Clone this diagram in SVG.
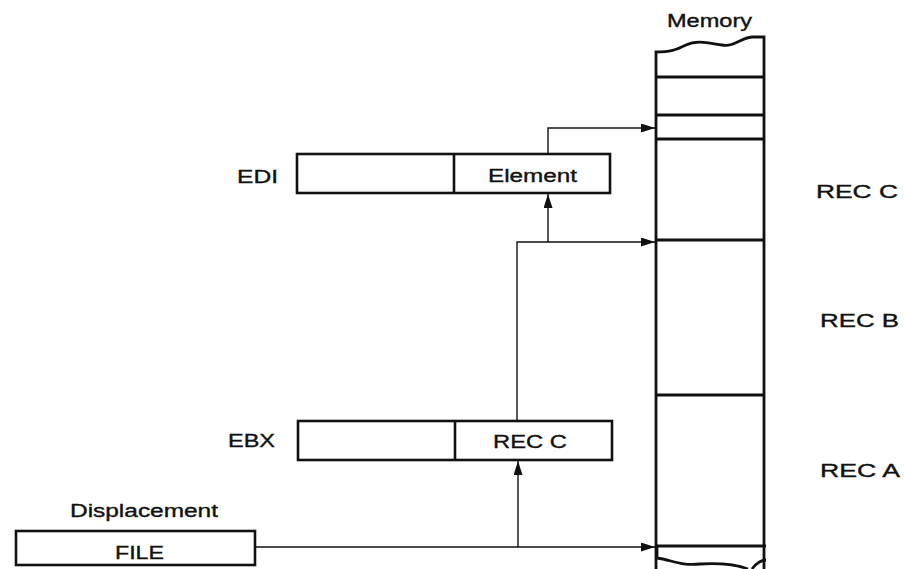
<svg xmlns="http://www.w3.org/2000/svg" width="904" height="569" viewBox="0 0 904 569">
<style>
text{font-family:"Liberation Sans",Arial,sans-serif;font-size:18px;fill:#111;stroke:#111;stroke-width:0.35}
.box{fill:#fff;stroke:#111;stroke-width:2.6}
.mem{fill:none;stroke:#111;stroke-width:2.8}
.conn{fill:none;stroke:#111;stroke-width:1.4}
</style>
<defs>
<marker id="arr" viewBox="0 0 14 9" refX="14" refY="4.5" markerWidth="14" markerHeight="9" markerUnits="userSpaceOnUse" orient="auto">
<path d="M0,0 L14,4.5 L0,9 Z" fill="#111"/>
</marker>
</defs>
<rect width="904" height="569" fill="#fff"/>
<g id="memory">
<text x="667" y="27" textLength="85" lengthAdjust="spacingAndGlyphs">Memory</text>
<path class="mem" d="M656,569 V52 C670,52 676,50 686,45 C698,39 712,44 722,45 C735,47 740,38 752,37 L764,37 V569"/>
<path class="mem" d="M656,77 H764 M656,115 H764 M656,139 H764 M656,240 H764 M656,395 H764 M656,546 H766"/>
<path class="mem" d="M657,547 V558 C672,560 680,566 700,564 C720,563 735,564 748,569"/>
<path class="mem" d="M752,569 C756,563 762,560 766,560"/>
</g>
<g id="rec-labels">
<text x="816" y="198" textLength="82" lengthAdjust="spacingAndGlyphs">REC C</text>
<text x="820" y="327" textLength="79" lengthAdjust="spacingAndGlyphs">REC B</text>
<text x="820" y="477" textLength="80" lengthAdjust="spacingAndGlyphs">REC A</text>
</g>
<g id="edi">
<text x="237" y="183" textLength="41" lengthAdjust="spacingAndGlyphs">EDI</text>
<rect class="box" x="297" y="154" width="313" height="39"/>
<line class="box" x1="454" y1="154" x2="454" y2="193"/>
<text x="488" y="182" textLength="89" lengthAdjust="spacingAndGlyphs">Element</text>
</g>
<g id="ebx">
<text x="228" y="447" textLength="47" lengthAdjust="spacingAndGlyphs">EBX</text>
<rect class="box" x="298" y="421" width="314" height="39"/>
<line class="box" x1="455" y1="421" x2="455" y2="460"/>
<text x="493" y="448" textLength="74" lengthAdjust="spacingAndGlyphs">REC C</text>
</g>
<g id="file">
<text x="70" y="517" textLength="148" lengthAdjust="spacingAndGlyphs">Displacement</text>
<rect class="box" x="16" y="531" width="239" height="34"/>
<text x="115" y="559" textLength="49" lengthAdjust="spacingAndGlyphs">FILE</text>
</g>
<g id="connectors">
<path class="conn" d="M255,547 H655" marker-end="url(#arr)"/>
<path class="conn" d="M518,547 V461" marker-end="url(#arr)"/>
<path class="conn" d="M517,421 V242 H655" marker-end="url(#arr)"/>
<path class="conn" d="M548,242 V194" marker-end="url(#arr)"/>
<path class="conn" d="M548,154 V128 H655" marker-end="url(#arr)"/>
</g>
</svg>
